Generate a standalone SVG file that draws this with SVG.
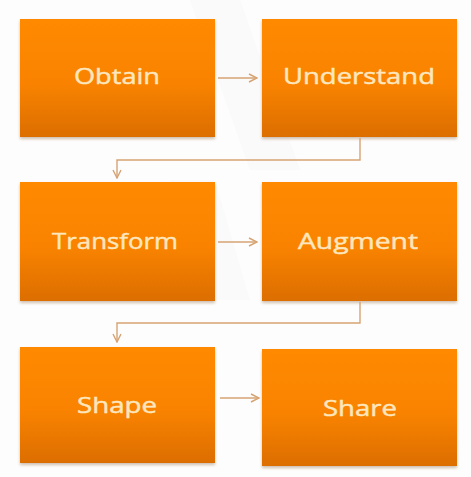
<svg xmlns="http://www.w3.org/2000/svg" width="471" height="477" viewBox="0 0 471 477">
  <defs>
    <linearGradient id="og" x1="0" y1="0" x2="0" y2="1">
      <stop offset="0" stop-color="#FF8A00"/>
      <stop offset="0.55" stop-color="#F98300"/>
      <stop offset="1" stop-color="#DC6E02"/>
    </linearGradient>
    <filter id="sh" x="-5%" y="-5%" width="110%" height="115%">
      <feDropShadow dx="0" dy="2" stdDeviation="1.5" flood-color="#7a4a20" flood-opacity="0.35"/>
    </filter>
    <marker id="ah" viewBox="0 0 10 10" refX="9" refY="5" markerWidth="10" markerHeight="10" markerUnits="userSpaceOnUse" orient="auto">
      <path d="M1,1 L9,5 L1,9" fill="none" stroke="#D6A373" stroke-width="1.4"/>
    </marker>
  </defs>
  <style>
    .box { fill: url(#og); filter: url(#sh); }
    .lbl { font-family: "Open Sans", "Liberation Sans", sans-serif; font-size: 22px; fill: #FEE7BE; stroke: #FEE7BE; stroke-width: 0.45; text-anchor: middle; }
    .con { fill: none; stroke: #D6A373; stroke-width: 1.4; marker-end: url(#ah); }
  </style>
  <rect width="471" height="477" fill="#FDFDFD"/>
  <path d="M190,0 L240,0 L300,170 L250,170 Z" fill="#F4F4F6" opacity="0.35"/>
  <path d="M170,180 L215,180 L250,300 L210,300 Z" fill="#F4F4F6" opacity="0.3"/>

  <g id="obtain">
    <rect class="box" x="20" y="19" width="195" height="118"/>
    <text class="lbl" x="117" y="84" textLength="86" lengthAdjust="spacingAndGlyphs">Obtain</text>
  </g>
  <g id="understand">
    <rect class="box" x="262" y="19" width="195" height="118"/>
    <text class="lbl" x="359" y="84" textLength="152" lengthAdjust="spacingAndGlyphs">Understand</text>
  </g>
  <g id="transform">
    <rect class="box" x="20" y="182" width="195" height="119"/>
    <text class="lbl" x="115" y="249" textLength="126" lengthAdjust="spacingAndGlyphs">Transform</text>
  </g>
  <g id="augment">
    <rect class="box" x="262" y="182" width="195" height="119"/>
    <text class="lbl" x="358" y="249" textLength="120" lengthAdjust="spacingAndGlyphs">Augment</text>
  </g>
  <g id="shape">
    <rect class="box" x="20" y="347" width="195" height="116"/>
    <text class="lbl" x="117" y="413" textLength="80" lengthAdjust="spacingAndGlyphs">Shape</text>
  </g>
  <g id="share">
    <rect class="box" x="262" y="349" width="195" height="117"/>
    <text class="lbl" x="360" y="416" textLength="74" lengthAdjust="spacingAndGlyphs">Share</text>
  </g>

  <g id="connectors">
    <path class="con" d="M218,78 L257,78"/>
    <path class="con" d="M360,138 L360,160 L117,160 L117,178"/>
    <path class="con" d="M218,242 L257,242"/>
    <path class="con" d="M360,302 L360,323 L117,323 L117,342"/>
    <path class="con" d="M220,398 L259,398"/>
  </g>
</svg>
